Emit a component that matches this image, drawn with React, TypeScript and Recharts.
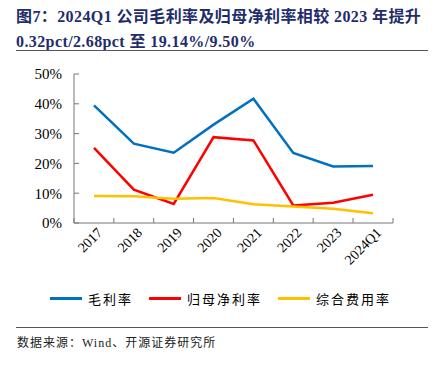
import { LineChart, Line, XAxis, YAxis, Legend } from 'recharts'

const years = ['2017', '2018', '2019', '2020', '2021', '2022', '2023', '2024Q1']
const grossMargin = [39.5, 26.6, 23.6, 33.0, 41.7, 23.5, 19.0, 19.14]
const netMargin = [25.2, 11.2, 6.4, 28.8, 27.7, 5.9, 6.8, 9.5]
const expenseRatio = [9.1, 9.0, 8.1, 8.4, 6.3, 5.5, 4.8, 3.3]
const yTicks = [0, 10, 20, 30, 40, 50]

const data = years.map((year, i) => ({
  year,
  gross: grossMargin[i],
  net: netMargin[i],
  expense: expenseRatio[i],
}))

const serif = '"Times New Roman", "Liberation Serif", "Noto Sans CJK SC", serif'
const half = 20 // half a category width, ticks sit between categories

const series = [
  { key: 'gross', name: '毛利率', color: '#0070C0' },
  { key: 'net', name: '归母净利率', color: '#FF0000' },
  { key: 'expense', name: '综合费用率', color: '#FFC000' },
]

function LegendRow() {
  return (
    <div style={{ display: 'flex', justifyContent: 'center', height: 20, alignItems: 'center', fontFamily: serif, fontSize: 13, color: '#000' }}>
      {series.map((s) => (
        <div key={s.key} style={{ display: 'flex', alignItems: 'center', margin: '0 8px' }}>
          <span style={{ display: 'inline-block', width: 32, height: 3, background: s.color, marginRight: 6 }} />
          <span style={{ letterSpacing: 2 }}>{s.name}</span>
        </div>
      ))}
    </div>
  )
}

// x axis tick: inward tick mark at the category boundary + rotated label
function AngledTick({ x, y, payload, index }: any) {
  const ty = y + 7
  return (
    <g>
      <line x1={x - half} x2={x - half} y1={y - 5} y2={y} stroke="#777" />
      {index === years.length - 1 && <line x1={x + half} x2={x + half} y1={y - 5} y2={y} stroke="#777" />}
      <text x={x} y={ty} dy={9} dx={4} textAnchor="end" transform={`rotate(-45, ${x}, ${ty})`} fontFamily={serif} fontSize={14} fill="#000">
        {payload.value}
      </text>
    </g>
  )
}

export default function App() {
  return (
    <div style={{ position: 'absolute', left: 0, top: 0, width: 441, height: 366, background: '#fff', fontFamily: serif }}>
      <div style={{ position: 'absolute', left: 16, top: 4, width: 425, fontWeight: 'bold', fontSize: 16, lineHeight: '25px', color: '#1F2D6B', letterSpacing: 0.4 }}>
        图7：2024Q1 公司毛利率及归母净利率相较 2023 年提升
        <br />
        0.32pct/2.68pct 至 19.14%/9.50%
      </div>
      <div style={{ position: 'absolute', left: 16, top: 50, width: 412, height: 0, borderTop: '1.5px solid #555' }} />
      <div style={{ position: 'absolute', left: 0, top: 0 }}>
        <LineChart width={441} height={366} data={data} margin={{ top: 74, right: 48, left: 14, bottom: 73 }}>
          <XAxis
            dataKey="year"
            height={50}
            padding={{ left: half, right: half }}
            tick={<AngledTick />}
            tickLine={false}
            axisLine={{ stroke: '#777' }}
            tickSize={0}
            tickMargin={0}
            interval={0}
          />
          <YAxis
            width={60}
            domain={[0, 50]}
            ticks={yTicks}
            tickFormatter={(v) => `${v}%`}
            tick={{ fontFamily: serif, fontSize: 15, fill: '#000' }}
            tickLine={{ stroke: '#777' }}
            axisLine={{ stroke: '#777' }}
            tickSize={-5}
            tickMargin={17}
          />
          <Legend content={<LegendRow />} wrapperStyle={{ top: 288, bottom: 'auto', left: 0, width: 441 }} />
          {series.map((s) => (
            <Line key={s.key} type="linear" dataKey={s.key} name={s.name} stroke={s.color} strokeWidth={2.5} dot={false} isAnimationActive={false} />
          ))}
        </LineChart>
      </div>
      <div style={{ position: 'absolute', left: 16, top: 327, width: 412, height: 0, borderTop: '1px solid #555' }} />
      <div style={{ position: 'absolute', left: 17, top: 333, fontSize: 12, color: '#222', letterSpacing: 1 }}>
        数据来源：Wind、开源证券研究所
      </div>
    </div>
  )
}
